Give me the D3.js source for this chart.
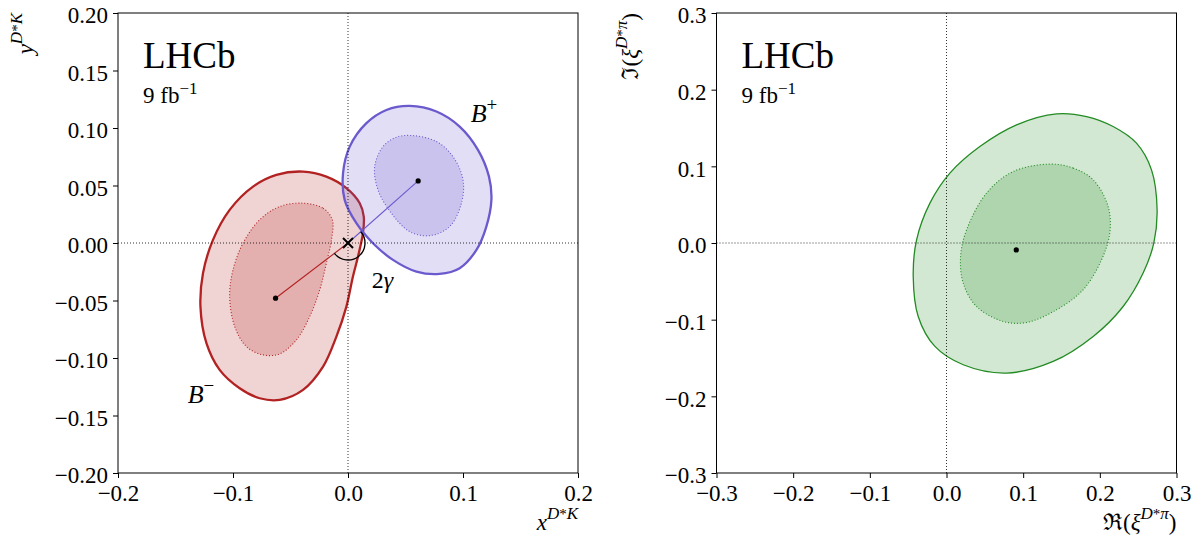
<!DOCTYPE html>
<html>
<head>
<meta charset="utf-8">
<script src="https://d3js.org/d3.v7.min.js"></script>
<style>
  body { margin: 0; background: #fff; }
</style>
</head>
<body>
<svg id="chart" width="1199" height="539"></svg>
<script>
// ---- values ----
// left panel: (x, y) for D*K, B- and B+ confidence regions
var bmCentre = [-0.063, -0.048];
var bpCentre = [0.061, 0.054];
var bmOuter = [[-0.0391,0.0621],[-0.0188,0.0577],[-0.0014,0.0477],[0.0102,0.0346],[0.0137,0.0230],
  [0.0130,0.0085],[0.0087,-0.0118],[0.0043,-0.0292],[-0.0014,-0.0553],[-0.0101,-0.0814],
  [-0.0217,-0.1075],[-0.0391,-0.1277],[-0.0594,-0.1364],[-0.0768,-0.1350],[-0.0942,-0.1263],
  [-0.1116,-0.1103],[-0.1231,-0.0871],[-0.1283,-0.0553],[-0.1261,-0.0263],[-0.1174,0.0027],
  [-0.1029,0.0288],[-0.0826,0.0490],[-0.0623,0.0592]];
var bmInner = [[-0.0391,0.0346],[-0.0217,0.0303],[-0.0136,0.0201],[-0.0144,0.0027],[-0.0188,-0.0176],
  [-0.0246,-0.0408],[-0.0333,-0.0640],[-0.0449,-0.0843],[-0.0594,-0.0964],[-0.0739,-0.0973],
  [-0.0883,-0.0901],[-0.0985,-0.0727],[-0.1029,-0.0466],[-0.1000,-0.0234],[-0.0913,-0.0002],
  [-0.0768,0.0201],[-0.0594,0.0317]];
var bpOuter = [[0.0537,0.1192],[0.0769,0.1143],[0.0971,0.1012],[0.1130,0.0810],[0.1226,0.0577],
  [0.1247,0.0375],[0.1203,0.0143],[0.1117,-0.0060],[0.0971,-0.0219],[0.0797,-0.0269],
  [0.0595,-0.0249],[0.0391,-0.0147],[0.0217,-0.0002],[0.0073,0.0172],[-0.0029,0.0375],
  [-0.0043,0.0607],[0.0015,0.0838],[0.0160,0.1042],[0.0334,0.1157]];
var bpInner = [[0.0565,0.0934],[0.0769,0.0882],[0.0913,0.0751],[0.1000,0.0549],[0.0986,0.0346],
  [0.0884,0.0143],[0.0710,0.0064],[0.0537,0.0099],[0.0377,0.0259],[0.0261,0.0462],
  [0.0232,0.0664],[0.0304,0.0838],[0.0421,0.0920]];

// right panel: (Re, Im) of xi for D*pi
var dpiCentre = [0.091, -0.009];
var dpiOuter = [[0.1435,0.1684],[0.1827,0.1649],[0.2173,0.1519],[0.2478,0.1302],[0.2674,0.0954],
  [0.2747,0.0433],[0.2704,-0.0001],[0.2565,-0.0392],[0.2304,-0.0828],[0.1913,-0.1219],
  [0.1391,-0.1545],[0.0784,-0.1696],[0.0218,-0.1588],[-0.0151,-0.1349],[-0.0369,-0.0958],
  [-0.0434,-0.0437],[-0.0390,0.0042],[-0.0216,0.0520],[0.0044,0.0911],[0.0435,0.1258],
  [0.0914,0.1541]];
var dpiInner = [[0.1348,0.1029],[0.1652,0.0977],[0.1913,0.0824],[0.2108,0.0476],[0.2130,0.0129],
  [0.2022,-0.0219],[0.1782,-0.0610],[0.1435,-0.0871],[0.1044,-0.1037],[0.0739,-0.1023],
  [0.0392,-0.0828],[0.0218,-0.0523],[0.0184,-0.0176],[0.0262,0.0172],[0.0523,0.0651],
  [0.0870,0.0932]];

// annotation anchors (data coordinates)
var labelBplus = [0.1067, 0.1053];
var labelBminus = [-0.1394, -0.139];
var labelGamma = [0.0206, -0.0393];

// axis ticks
var leftXTicks = [-0.2, -0.1, 0.0, 0.1, 0.2];
var leftYTicks = [-0.2, -0.15, -0.1, -0.05, 0.0, 0.05, 0.1, 0.15, 0.2];
var rightTicks = [-0.3, -0.2, -0.1, 0.0, 0.1, 0.2, 0.3];

var FONT = "'Liberation Serif', 'DejaVu Serif', serif";
var svg = d3.select("#chart").style("font-family", FONT);
var RED = "#b22222", BLUE = "#6a5acd", GREEN = "#228b22";

function panel(box, xDom, yDom, xTicks, yTicks, xFmt, yFmt) {
  var x = d3.scaleLinear().domain(xDom).range([box.left, box.right]);
  var y = d3.scaleLinear().domain(yDom).range([box.bottom, box.top]);
  var g = svg.append("g");
  var marks = g.append("g");
  var over = g.append("g");

  // zero lines
  over.append("line").attr("x1", x(0)).attr("x2", x(0)).attr("y1", box.top).attr("y2", box.bottom)
    .attr("stroke", "#000").attr("stroke-width", 0.8).attr("stroke-dasharray", "1,2");
  over.append("line").attr("x1", box.left).attr("x2", box.right).attr("y1", y(0)).attr("y2", y(0))
    .attr("stroke", "#000").attr("stroke-width", 0.8).attr("stroke-dasharray", "1,2");

  var ax = g.append("g").attr("transform", "translate(0," + box.bottom + ")")
    .call(d3.axisBottom(x).tickValues(xTicks).tickFormat(xFmt).tickSize(5).tickSizeOuter(0));
  ax.attr("font-size", 23).attr("font-family", FONT);
  ax.select(".domain").remove();
  ax.selectAll(".tick line").attr("stroke", "#000").attr("stroke-width", 1);
  ax.selectAll(".tick text").attr("y", 28).attr("dy", null).style("font-family", FONT);

  var ay = g.append("g").attr("transform", "translate(" + box.left + ",0)")
    .call(d3.axisLeft(y).tickValues(yTicks).tickFormat(yFmt).tickSize(5).tickSizeOuter(0));
  ay.attr("font-size", 23).attr("font-family", FONT);
  ay.select(".domain").remove();
  ay.selectAll(".tick line").attr("stroke", "#000").attr("stroke-width", 1);
  ay.selectAll(".tick text").attr("x", -10).attr("dy", "0.42em").style("font-family", FONT);

  g.append("rect").attr("x", box.left).attr("y", box.top)
    .attr("width", box.right - box.left).attr("height", box.bottom - box.top)
    .attr("fill", "none").attr("stroke", "#000").attr("stroke-width", 1);

  // LHCb tag
  g.append("text").attr("x", box.left + 25).attr("y", box.top + 55).attr("font-size", 37).text("LHCb");
  var lumi = g.append("text").attr("x", box.left + 25).attr("y", box.top + 90).attr("font-size", 23);
  lumi.append("tspan").text("9 fb");
  lumi.append("tspan").attr("font-size", 17).attr("dy", -9).text("\u22121");

  return { x: x, y: y, g: marks, over: over };
}

function region(p, pts, col, width, dash) {
  var line = d3.line().x(function (d) { return p.x(d[0]); }).y(function (d) { return p.y(d[1]); })
    .curve(d3.curveCatmullRomClosed.alpha(0.5));
  p.g.append("path").attr("d", line(pts))
    .attr("fill", col).attr("fill-opacity", 0.2)
    .attr("stroke", col).attr("stroke-width", width)
    .attr("stroke-dasharray", dash);
}

function dot(p, c) {
  p.over.append("circle").attr("cx", p.x(c[0])).attr("cy", p.y(c[1])).attr("r", 2.6).attr("fill", "#000");
}

// ---- left panel ----
var L = panel({ left: 118, right: 578, top: 13, bottom: 473 }, [-0.2, 0.2], [-0.2, 0.2],
  leftXTicks, leftYTicks, d3.format(".1f"), d3.format(".2f"));

region(L, bmOuter, RED, 2.3, null);
region(L, bmInner, RED, 1.1, "1,2");
region(L, bpOuter, BLUE, 2.3, null);
region(L, bpInner, BLUE, 1.1, "1,2");

var ox = L.x(0), oy = L.y(0);
L.over.append("line").attr("x1", L.x(bmCentre[0])).attr("y1", L.y(bmCentre[1]))
  .attr("x2", ox).attr("y2", oy).attr("stroke", RED).attr("stroke-width", 1.1);
L.over.append("line").attr("x1", L.x(bpCentre[0])).attr("y1", L.y(bpCentre[1]))
  .attr("x2", ox).attr("y2", oy).attr("stroke", BLUE).attr("stroke-width", 1.1);

// 2 gamma arc between the two vectors
var aPlus = Math.atan2(L.y(bpCentre[1]) - oy, L.x(bpCentre[0]) - ox);
var aMinus = Math.atan2(L.y(bmCentre[1]) - oy, L.x(bmCentre[0]) - ox);
var arc = d3.path();
arc.arc(ox, oy, 17, aPlus, aMinus, false);
L.over.append("path").attr("d", arc.toString()).attr("fill", "none").attr("stroke", "#000").attr("stroke-width", 1.3);

L.over.append("path").attr("d", "M" + (ox - 5) + "," + (oy - 5) + "L" + (ox + 5) + "," + (oy + 5) +
  "M" + (ox - 5) + "," + (oy + 5) + "L" + (ox + 5) + "," + (oy - 5))
  .attr("stroke", "#000").attr("stroke-width", 2);
dot(L, bmCentre);
dot(L, bpCentre);

var tp = L.over.append("text").attr("x", L.x(labelBplus[0])).attr("y", L.y(labelBplus[1])).attr("font-size", 26);
tp.append("tspan").attr("font-style", "italic").text("B");
tp.append("tspan").attr("font-size", 19).attr("dy", -11).text("+");
var tm = L.over.append("text").attr("x", L.x(labelBminus[0])).attr("y", L.y(labelBminus[1])).attr("font-size", 26);
tm.append("tspan").attr("font-style", "italic").text("B");
tm.append("tspan").attr("font-size", 19).attr("dy", -11).text("\u2212");
var tg = L.over.append("text").attr("x", L.x(labelGamma[0])).attr("y", L.y(labelGamma[1])).attr("font-size", 24);
tg.append("tspan").text("2");
tg.append("tspan").attr("font-style", "italic").text("\u03b3");

// axis titles
var xl = svg.append("text").attr("x", 578).attr("y", 530).attr("text-anchor", "end").attr("font-size", 23);
xl.append("tspan").attr("font-style", "italic").text("x");
xl.append("tspan").attr("font-size", 17).attr("dy", -11).attr("font-style", "italic").text("D");
xl.append("tspan").attr("font-size", 15).text("*");
xl.append("tspan").attr("font-size", 17).attr("font-style", "italic").text("K");

var yl = svg.append("text").attr("transform", "translate(33,13) rotate(-90)")
  .attr("text-anchor", "end").attr("font-size", 23);
yl.append("tspan").attr("font-style", "italic").text("y");
yl.append("tspan").attr("font-size", 17).attr("dy", -11).attr("font-style", "italic").text("D");
yl.append("tspan").attr("font-size", 15).text("*");
yl.append("tspan").attr("font-size", 17).attr("font-style", "italic").text("K");

// ---- right panel ----
var R = panel({ left: 716.5, right: 1176.5, top: 13, bottom: 473 }, [-0.3, 0.3], [-0.3, 0.3],
  rightTicks, rightTicks, d3.format(".1f"), d3.format(".1f"));
region(R, dpiOuter, GREEN, 1.3, null);
region(R, dpiInner, GREEN, 1.1, "1,2");
dot(R, dpiCentre);

function xiLabel(sel, sym) {
  sel.append("tspan").text(sym + "(");
  sel.append("tspan").attr("font-style", "italic").text("\u03be");
  sel.append("tspan").attr("font-size", 17).attr("dy", -11).attr("font-style", "italic").text("D");
  sel.append("tspan").attr("font-size", 15).text("*");
  sel.append("tspan").attr("font-size", 17).attr("font-style", "italic").text("\u03c0");
  sel.append("tspan").attr("dy", 11).text(")");
}
xiLabel(svg.append("text").attr("x", 1176.5).attr("y", 530).attr("text-anchor", "end").attr("font-size", 23), "\u211c");
xiLabel(svg.append("text").attr("transform", "translate(638,13) rotate(-90)")
  .attr("text-anchor", "end").attr("font-size", 23), "\u2111");
</script>
</body>
</html>
